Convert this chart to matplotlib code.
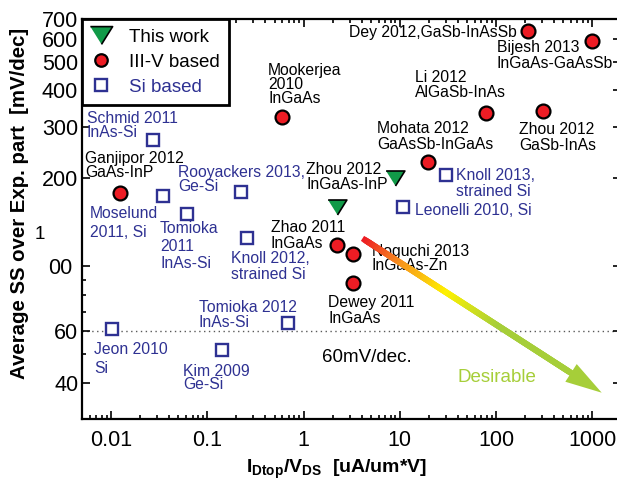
import numpy as np
import matplotlib.pyplot as plt
import matplotlib as mpl
import matplotlib.transforms as mtransforms
from matplotlib.collections import LineCollection
from matplotlib.colors import LinearSegmentedColormap
from matplotlib.lines import Line2D
from matplotlib.patches import Polygon
from matplotlib.ticker import NullFormatter, LogLocator

mpl.rcParams['font.family'] = ['Liberation Sans', 'DejaVu Sans']
mpl.rcParams['mathtext.fontset'] = 'custom'
mpl.rcParams['mathtext.rm'] = 'Liberation Sans'
mpl.rcParams['mathtext.bf'] = 'Liberation Sans:bold'
mpl.rcParams['xtick.labelsize'] = 15.5
mpl.rcParams['ytick.labelsize'] = 15.5

W, H = 617, 487

# ---- data ----
this_x = [8.9, 2.2]
this_y = [200, 159]

iii_x = [0.0123, 0.595, 213, 986, 78.5, 305, 19.7, 2.2, 3.28, 3.28]
iii_y = [178, 324, 637, 590, 333, 340, 227, 118, 110, 88]

si_x = [0.0273, 0.0347, 0.0608, 0.221, 0.256, 0.692, 0.0101, 0.1405, 29.9, 10.8]
si_y = [270, 174, 150.6, 179, 125, 63.9, 60.9, 51.8, 205, 159]

x_ticks = [0.01, 0.1, 1, 10, 100, 1000]
x_ticklabels = ['0.01', '0.1', '1', '10', '100', '1000']
y_ticks = [40, 60, 100, 200, 300, 400, 500, 600, 700]
y_ticklabels = ['40', '60', '', '200', '300', '400', '500', '600', '700']
y_minor = [50, 70, 80, 90]

# annotation texts: (text, colour, left px, first baseline px, line gap px)
labels = [
    ('Mookerjea\n2010\nInGaAs', 'k', 268, 75, 14),
    ('Schmid 2011\nInAs-Si', 'b', 87, 122.7, 14),
    ('Ganjipor 2012\nGaAs-InP', 'k', 85, 163.3, 14),
    ('Rooyackers 2013,\nGe-Si', 'b', 178.3, 176.7, 14.3),
    ('Moselund\n2011, Si', 'b', 90, 218.3, 19),
    ('Tomioka\n2011\nInAs-Si', 'b', 160, 233.3, 17.5),
    ('Zhao 2011\nInGaAs', 'k', 270.7, 232.3, 16),
    ('Knoll 2012,\nstrained Si', 'b', 231, 263.3, 16),
    ('Tomioka 2012\nInAs-Si', 'b', 199, 311.7, 15),
    ('Jeon 2010\nSi', 'b', 94, 354, 19.3),
    ('Kim 2009\nGe-Si', 'b', 183.3, 375.7, 13.5),
    ('Zhou 2012\nInGaAs-InP', 'k', 306, 174, 15),
    ('Dey 2012,GaSb-InAsSb', 'k', 349.3, 37.3, 15),
    ('Bijesh 2013\nInGaAs-GaAsSb', 'k', 496.7, 52.3, 15.3),
    ('Li 2012\nAlGaSb-InAs', 'k', 415, 82.3, 14.4),
    ('Zhou 2012\nGaSb-InAs', 'k', 519.3, 134.3, 15.7),
    ('Mohata 2012\nGaAsSb-InGaAs', 'k', 377.3, 133.3, 16),
    ('Knoll 2013,\nstrained Si', 'b', 456, 180, 15.7),
    ('Leonelli 2010, Si', 'b', 415, 215, 15),
    ('Noguchi 2013\nInGaAs-Zn', 'k', 371.7, 255.7, 14.3),
    ('Dewey 2011\nInGaAs', 'k', 328.3, 307.3, 16),
]

red = '#ed1c24'
green = '#119a48'
blue = '#2e3192'
lime = '#a6ce39'
colors = {'k': 'black', 'b': blue}

tri = [(-1, 0.8), (1, 0.8), (0, -0.8)]

fig = plt.figure(figsize=(W / 100, H / 100), dpi=100)
ax = fig.add_axes([82.3 / W, 1 - 419.3 / H, 538.9 / W, 400.3 / H])
ax.set_xscale('log')
ax.set_yscale('log')
ax.set_xlim(0.005, 2000)
ax.set_ylim(30, 700)

ax.axhline(60, color='0.35', lw=1.0, ls=(0, (1, 2.5)), zorder=1)

ax.plot(iii_x, iii_y, ls='none', marker='o', ms=10, mfc=red, mec='k', mew=1.6, zorder=3)
ax.plot(si_x, si_y, ls='none', marker='s', ms=8.3, mfc='white', mec=blue, mew=1.7, zorder=3)
ax.plot(this_x, this_y, ls='none', marker=tri, ms=13.5, mfc=green, mec='k', mew=1.2, zorder=4)

fs = 11.3
for text, c, px, py, gap in labels:
    for i, line in enumerate(text.split('\n')):
        ax.text(px / W, 1 - (py + i * gap) / H, line, transform=fig.transFigure,
                color=colors[c], fontsize=fs, ha='left', va='baseline', zorder=2)

ax.text(321.7 / W, 1 - 361.7 / H, '60mV/dec.', transform=fig.transFigure, fontsize=13.5,
        va='baseline')
ax.text(457.7 / W, 1 - 381.7 / H, 'Desirable', transform=fig.transFigure, fontsize=13.5,
        va='baseline', color=lime)

# gradient arrow
p0 = np.array([365.0, 240.0])
p1 = np.array([601.7, 392.7])
u = (p1 - p0) / np.hypot(*(p1 - p0))
nrm = np.array([-u[1], u[0]])
base = p1 - u * 36.5
t = np.linspace(0, 1, 120)
pts = p0 + np.outer(t, base - p0)
pts_f = np.column_stack([pts[:, 0] / W, 1 - pts[:, 1] / H])
segs = np.stack([pts_f[:-1], pts_f[1:]], axis=1)
cmap = LinearSegmentedColormap.from_list(
    'des', [(0, red), (0.18, '#f7941d'), (0.4, '#fff200'), (0.65, lime), (1, lime)])
lc = LineCollection(segs, colors=cmap(t[:-1]), linewidths=4.3, transform=fig.transFigure,
                    capstyle='projecting', zorder=5)
fig.add_artist(lc)
head = np.array([p1, base + nrm * 10.5, base - nrm * 10.5])
head_f = np.column_stack([head[:, 0] / W, 1 - head[:, 1] / H])
fig.add_artist(Polygon(head_f, closed=True, facecolor=lime, edgecolor='none',
                       transform=fig.transFigure, zorder=5))

# axes styling
for s in ax.spines.values():
    s.set_linewidth(1.6)
ax.set_xticks(x_ticks)
ax.set_xticklabels(x_ticklabels)
ax.xaxis.set_minor_locator(LogLocator(base=10, subs=np.arange(2, 10)))
ax.xaxis.set_minor_formatter(NullFormatter())
ax.set_yticks(y_ticks)
ax.set_yticklabels(y_ticklabels)
ax.set_yticks(y_minor, minor=True)
ax.yaxis.set_minor_formatter(NullFormatter())
ax.tick_params(which='both', direction='in', top=True, right=True, width=1.2, color='k')
ax.tick_params(which='major', length=5.5)
ax.tick_params(which='minor', length=2.8)
ax.tick_params(axis='x', pad=8)
ax.tick_params(axis='y', pad=3)

yl_tr = mtransforms.blended_transform_factory(fig.transFigure, ax.transData)
ax.text(72.7 / W, 100, '00', transform=yl_tr, ha='right', va='center_baseline', fontsize=15.5)
ax.text(45 / W, 130, '1', transform=yl_tr, ha='right', va='center_baseline', fontsize=13.5)

ax.set_ylabel('Average SS over Exp. part  [mV/dec]', fontsize=14.7, fontweight='bold')
ax.yaxis.set_label_coords(-0.099, 0.54)
ax.set_xlabel(r'$\mathbf{I_{Dtop}/V_{DS}}$  [uA/um*V]', fontsize=14, fontweight='bold')
ax.xaxis.set_label_coords(0.471, -0.095)

h1 = Line2D([], [], ls='none', marker=tri, ms=16, mfc=green, mec='k', mew=1.2)
h2 = Line2D([], [], ls='none', marker='o', ms=9, mfc=red, mec='k', mew=1.6)
h3 = Line2D([], [], ls='none', marker='s', ms=8.3, mfc='white', mec=blue, mew=1.7)
leg = ax.legend([h1, h2, h3], ['This work', 'III-V based', 'Si based'], loc='upper left',
                borderaxespad=0, fancybox=False, edgecolor='k', framealpha=1, fontsize=13.5,
                handlelength=1.0, handletextpad=1.0, borderpad=0.5, labelspacing=0.42)
leg.get_frame().set_linewidth(2)
leg.get_texts()[2].set_color(blue)
leg.set_zorder(6)

fig.savefig('out.png', dpi=100)
